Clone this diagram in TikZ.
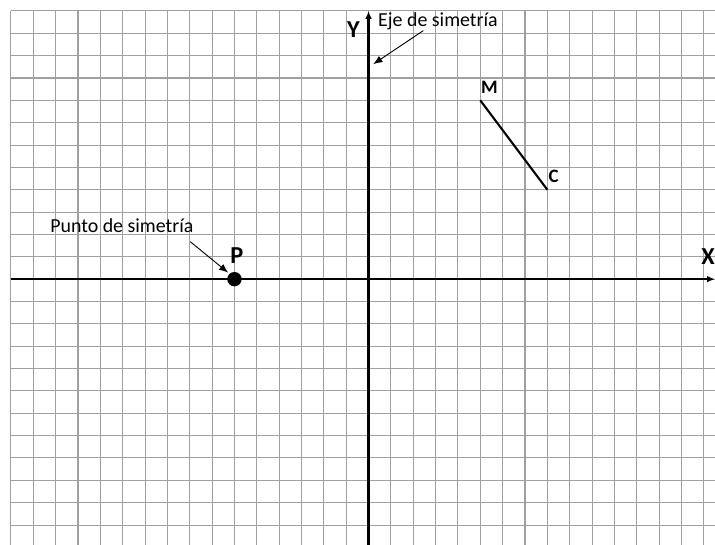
\documentclass[tikz,border=0pt]{standalone}
\usepackage{fontspec}
\setmainfont{Carlito}
\usetikzlibrary{arrows.meta}
\definecolor{gridgray}{RGB}{160,160,160}
\tikzset{
  gridline/.style={draw=gridgray, line width=0.8pt},
  axisline/.style={draw=black, line width=2pt},
  annot/.style={font=\fontsize{15.2}{17}\selectfont, inner sep=0pt},
  biglabel/.style={font=\fontsize{18.6}{20}\selectfont\bfseries, inner sep=0pt},
  ptlabel/.style={font=\fontsize{14.5}{16}\selectfont\bfseries, inner sep=0pt},
  pointer/.style={draw=black, line width=0.7pt, -{Latex[length=7pt,width=5.5pt]}},
}
\begin{document}
\begin{tikzpicture}[x=0.6cm,y=0.6cm]
\useasboundingbox (-16.49,-11.85) rectangle (15.50,12.49);
\fill[white] (-16.49,-11.85) rectangle (15.50,12.49);
% grid
\foreach \i in {-16,...,15} \draw[gridline] (\i,-11.9) -- (\i,12);
\foreach \j in {-11,...,12} \draw[gridline] (-16,\j) -- (15.6,\j);
% axes
\coordinate (xl) at (-16,0);
\coordinate (xr) at (15.5,0);
\coordinate (yb) at (0,-11.9);
\coordinate (yt) at (0,12);
\draw[axisline, -{Latex[length=6pt,width=5pt]}] (xl) -- (xr);
\draw[axisline, -{Latex[length=6pt,width=5pt]}] (yb) -- (yt);
\node[biglabel] (Xlab) at (15.19,1.0) {X};
\node[biglabel] (Ylab) at (-0.68,11.17) {Y};
% segment MC
\coordinate (M) at (5,8);
\coordinate (C) at (8,4);
\draw[black, line width=1.6pt] (M) -- (C);
\node[ptlabel, anchor=base west] (Mlab) at (5.02,8.29) {M};
\node[ptlabel, anchor=base west] (Clab) at (8.05,4.34) {C};
% point P
\node[circle, fill=black, minimum size=11pt, inner sep=0pt] (P) at (-6,0) {};
\node[biglabel] (Plab) at (-5.89,1.06) {P};
% annotations
\node[annot, anchor=base west] (eje) at (0.42,11.29) {Eje de simetría};
\coordinate (ejeEnd) at (0.21,9.62);
\coordinate (ejeStart) at (2.45,11.12);
\draw[pointer] (ejeStart) -- (ejeEnd);
\node[annot, anchor=base west] (punto) at (-14.25,2.07) {Punto de simetría};
\coordinate (ptStart) at (-7.98,1.68);
\coordinate (ptEnd) at (-6.28,0.29);
\draw[pointer] (ptStart) -- (ptEnd);
\end{tikzpicture}
\end{document}
